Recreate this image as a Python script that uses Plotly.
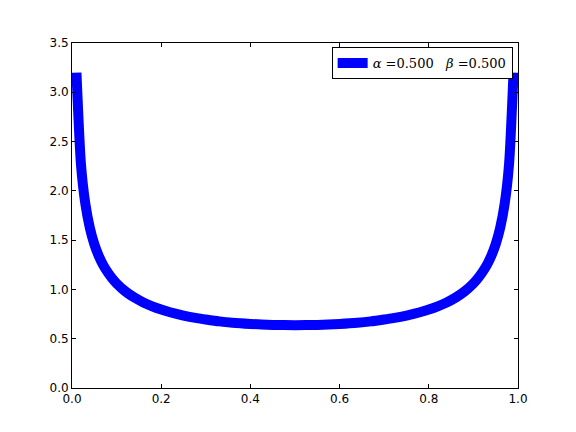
import plotly.graph_objects as go

# Values (symmetric U shape)
x_left = [0.01, 0.02, 0.03, 0.04, 0.05, 0.06, 0.07, 0.08, 0.09, 0.10,
          0.12, 0.14, 0.16, 0.18, 0.20, 0.22, 0.25, 0.28, 0.30, 0.33,
          0.36, 0.40, 0.45, 0.50]
y_left = [3.199, 2.274, 1.866, 1.624, 1.460, 1.340, 1.247, 1.174, 1.112, 1.061,
          0.979, 0.917, 0.868, 0.829, 0.796, 0.768, 0.735, 0.709, 0.695, 0.676,
          0.662, 0.650, 0.640, 0.637]
x_right = [0.55, 0.60, 0.64, 0.67, 0.70, 0.72, 0.75, 0.78, 0.80, 0.82,
           0.84, 0.86, 0.88, 0.90, 0.91, 0.92, 0.93, 0.94, 0.95, 0.96,
           0.97, 0.98, 0.99]
y_right = [0.640, 0.650, 0.662, 0.676, 0.695, 0.709, 0.735, 0.768, 0.796, 0.829,
           0.868, 0.917, 0.979, 1.061, 1.112, 1.174, 1.247, 1.340, 1.460, 1.624,
           1.866, 2.274, 3.199]

x_ticks = [0.0, 0.2, 0.4, 0.6, 0.8, 1.0]
y_ticks = [0.0, 0.5, 1.0, 1.5, 2.0, 2.5, 3.0, 3.5]

fig = go.Figure()
fig.add_trace(go.Scatter(
    x=x_left + x_right,
    y=y_left + y_right,
    mode="lines",
    line=dict(color="#0000ff", width=10, shape="spline", smoothing=0.6),
    name="<i>α</i> =0.500   <i>β</i> =0.500",
))

axis_style = dict(
    showgrid=False, zeroline=False,
    showline=True, linecolor="black", linewidth=1, mirror="ticks",
    ticks="inside", ticklen=4, tickcolor="black",
    tickfont=dict(family="DejaVu Sans", size=12, color="black"),
)
fig.update_xaxes(range=[0, 1], tickvals=x_ticks,
                 ticktext=[f"{v:.1f}" for v in x_ticks], **axis_style)
fig.update_yaxes(range=[0, 3.5], tickvals=y_ticks,
                 ticktext=[f"{v:.1f}" for v in y_ticks], **axis_style)

fig.update_layout(
    width=576, height=432,
    margin=dict(l=64, r=66, t=35, b=52),
    paper_bgcolor="white", plot_bgcolor="white",
    showlegend=True,
    legend=dict(
        x=0.988, y=0.988, xanchor="right", yanchor="top",
        bgcolor="white", bordercolor="black", borderwidth=1,
        font=dict(family="DejaVu Serif", size=13, color="black"),
    ),
)

fig.write_html("out.html")
